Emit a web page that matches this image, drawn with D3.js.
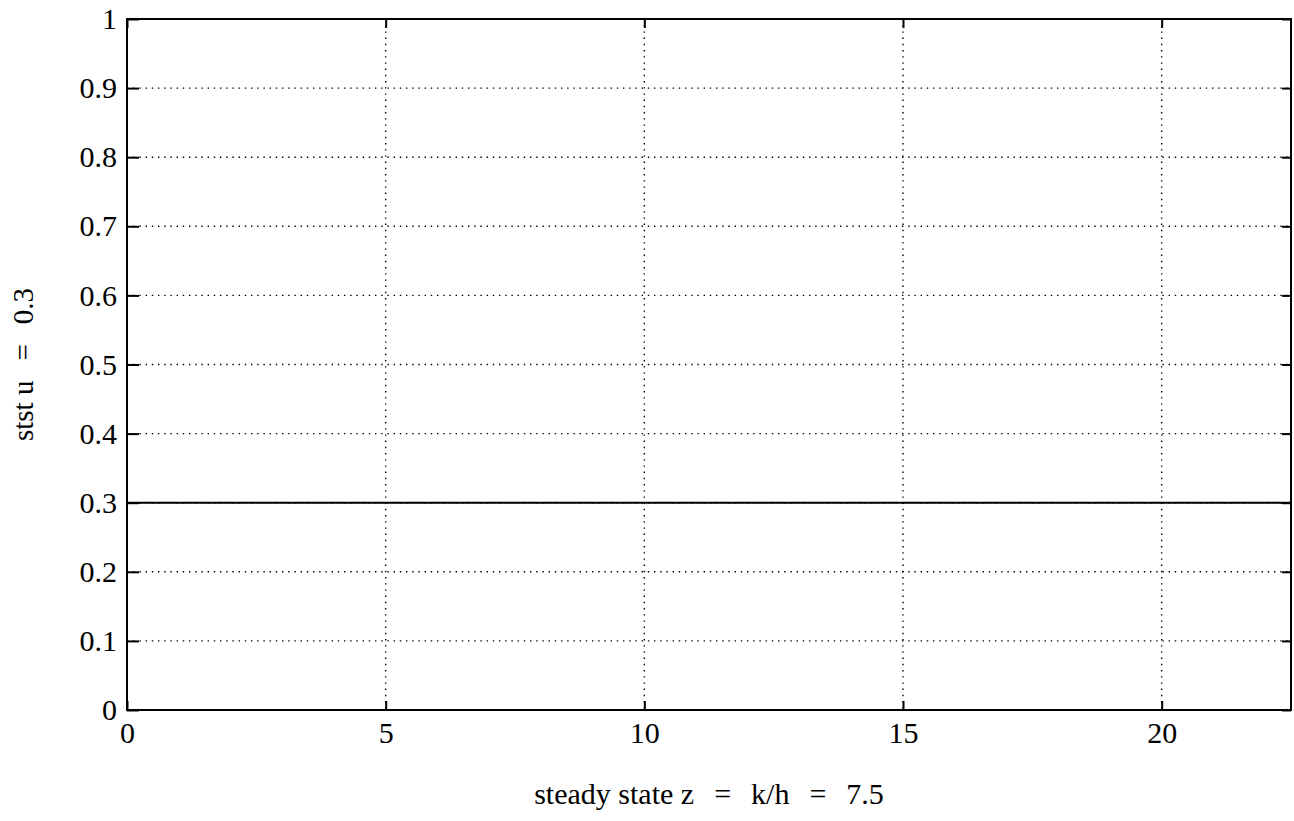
<!DOCTYPE html>
<html>
<head>
<meta charset="utf-8">
<script src="https://cdn.jsdelivr.net/npm/d3@7"></script>
<style>
  html, body { margin: 0; padding: 0; background: #fff; }
  svg { display: block; }
  text { font-family: "Liberation Serif", "Times New Roman", serif; fill: #000; }
</style>
</head>
<body>
<div id="chart"></div>
<script>
// ---- data ----
const xValues = [0, 22.5];
const uValues = [0.3, 0.3];
const xTicks = [0, 5, 10, 15, 20];
const yTicks = [0, 0.1, 0.2, 0.3, 0.4, 0.5, 0.6, 0.7, 0.8, 0.9, 1];
const xDomain = [0, 22.5];
const yDomain = [0, 1];
const xLabelParts = ["steady state z", "=", "k/h", "=", "7.5"];
const yLabelParts = ["stst u", "=", "0.3"];

(function () {
// ---- layout ----
const W = 1294, H = 821;
const m = { left: 127, right: 1294 - 1291, top: 19, bottom: 821 - 710 };
const pw = W - m.left - m.right, ph = H - m.top - m.bottom;

const svg = d3.select("#chart").append("svg").attr("width", W).attr("height", H);
svg.append("rect").attr("width", W).attr("height", H).attr("fill", "#fff");
const g = svg.append("g").attr("transform", `translate(${m.left},${m.top})`);

const x = d3.scaleLinear().domain(xDomain).range([0, pw]);
const y = d3.scaleLinear().domain(yDomain).range([ph, 0]);

// grid (dotted)
g.append("g").selectAll("line").data(xTicks.filter(d => d > xDomain[0]))
  .join("line")
  .attr("x1", d => x(d)).attr("x2", d => x(d)).attr("y1", 0).attr("y2", ph)
  .attr("stroke", "#000").attr("stroke-width", 1.4).attr("stroke-dasharray", "1.4,4.8");
g.append("g").selectAll("line").data(yTicks.filter(d => d > yDomain[0] && d < yDomain[1]))
  .join("line")
  .attr("x1", 0).attr("x2", pw).attr("y1", d => y(d)).attr("y2", d => y(d))
  .attr("stroke", "#000").attr("stroke-width", 1.4).attr("stroke-dasharray", "1.4,4.8");

// axes with inward ticks on all sides
const tickLen = 9;
const fmtY = d => d3.format("~g")(d);
const axB = g.append("g").attr("transform", `translate(0,${ph})`)
  .call(d3.axisBottom(x).tickValues(xTicks).tickSizeInner(-tickLen).tickSizeOuter(0).tickFormat(d3.format("d")));
const axT = g.append("g")
  .call(d3.axisTop(x).tickValues(xTicks).tickSizeInner(-tickLen).tickSizeOuter(0).tickFormat(""));
const axL = g.append("g")
  .call(d3.axisLeft(y).tickValues(yTicks).tickSizeInner(-12).tickSizeOuter(0).tickFormat(fmtY));
const axR = g.append("g").attr("transform", `translate(${pw},0)`)
  .call(d3.axisRight(y).tickValues(yTicks).tickSizeInner(-tickLen).tickSizeOuter(0).tickFormat(""));

[axB, axT, axL, axR].forEach(a => {
  a.select(".domain").remove();
  a.selectAll(".tick line").attr("stroke", "#000").attr("stroke-width", 2);
  a.selectAll(".tick text").style("font-family", '"Liberation Serif", serif').style("font-size", "30px").attr("fill", "#000");
});
axB.selectAll(".tick text").attr("dy", "0.71em").attr("y", 12);
axL.selectAll(".tick text").attr("x", -10);

// box
g.append("rect").attr("x", 0).attr("y", 0).attr("width", pw).attr("height", ph)
  .attr("fill", "none").attr("stroke", "#000").attr("stroke-width", 2);

// data line
const line = d3.line().x((d, i) => x(xValues[i])).y(d => y(d));
g.append("path").datum(uValues).attr("d", line)
  .attr("fill", "none").attr("stroke", "#000").attr("stroke-width", 2);

// labels (wide spacing around "=")
const xl = svg.append("text").attr("x", m.left + pw / 2).attr("y", 804)
  .attr("text-anchor", "middle").style("font-size", "30px");
xLabelParts.forEach((t, i) => xl.append("tspan").attr("dx", i === 0 ? 0 : 20).text(t));

const yl = svg.append("text").attr("transform", `translate(33,${m.top + ph / 2}) rotate(-90)`)
  .attr("text-anchor", "middle").style("font-size", "29px");
yLabelParts.forEach((t, i) => yl.append("tspan").attr("dx", i === 0 ? 0 : 20).text(t));
})();
</script>
</body>
</html>
